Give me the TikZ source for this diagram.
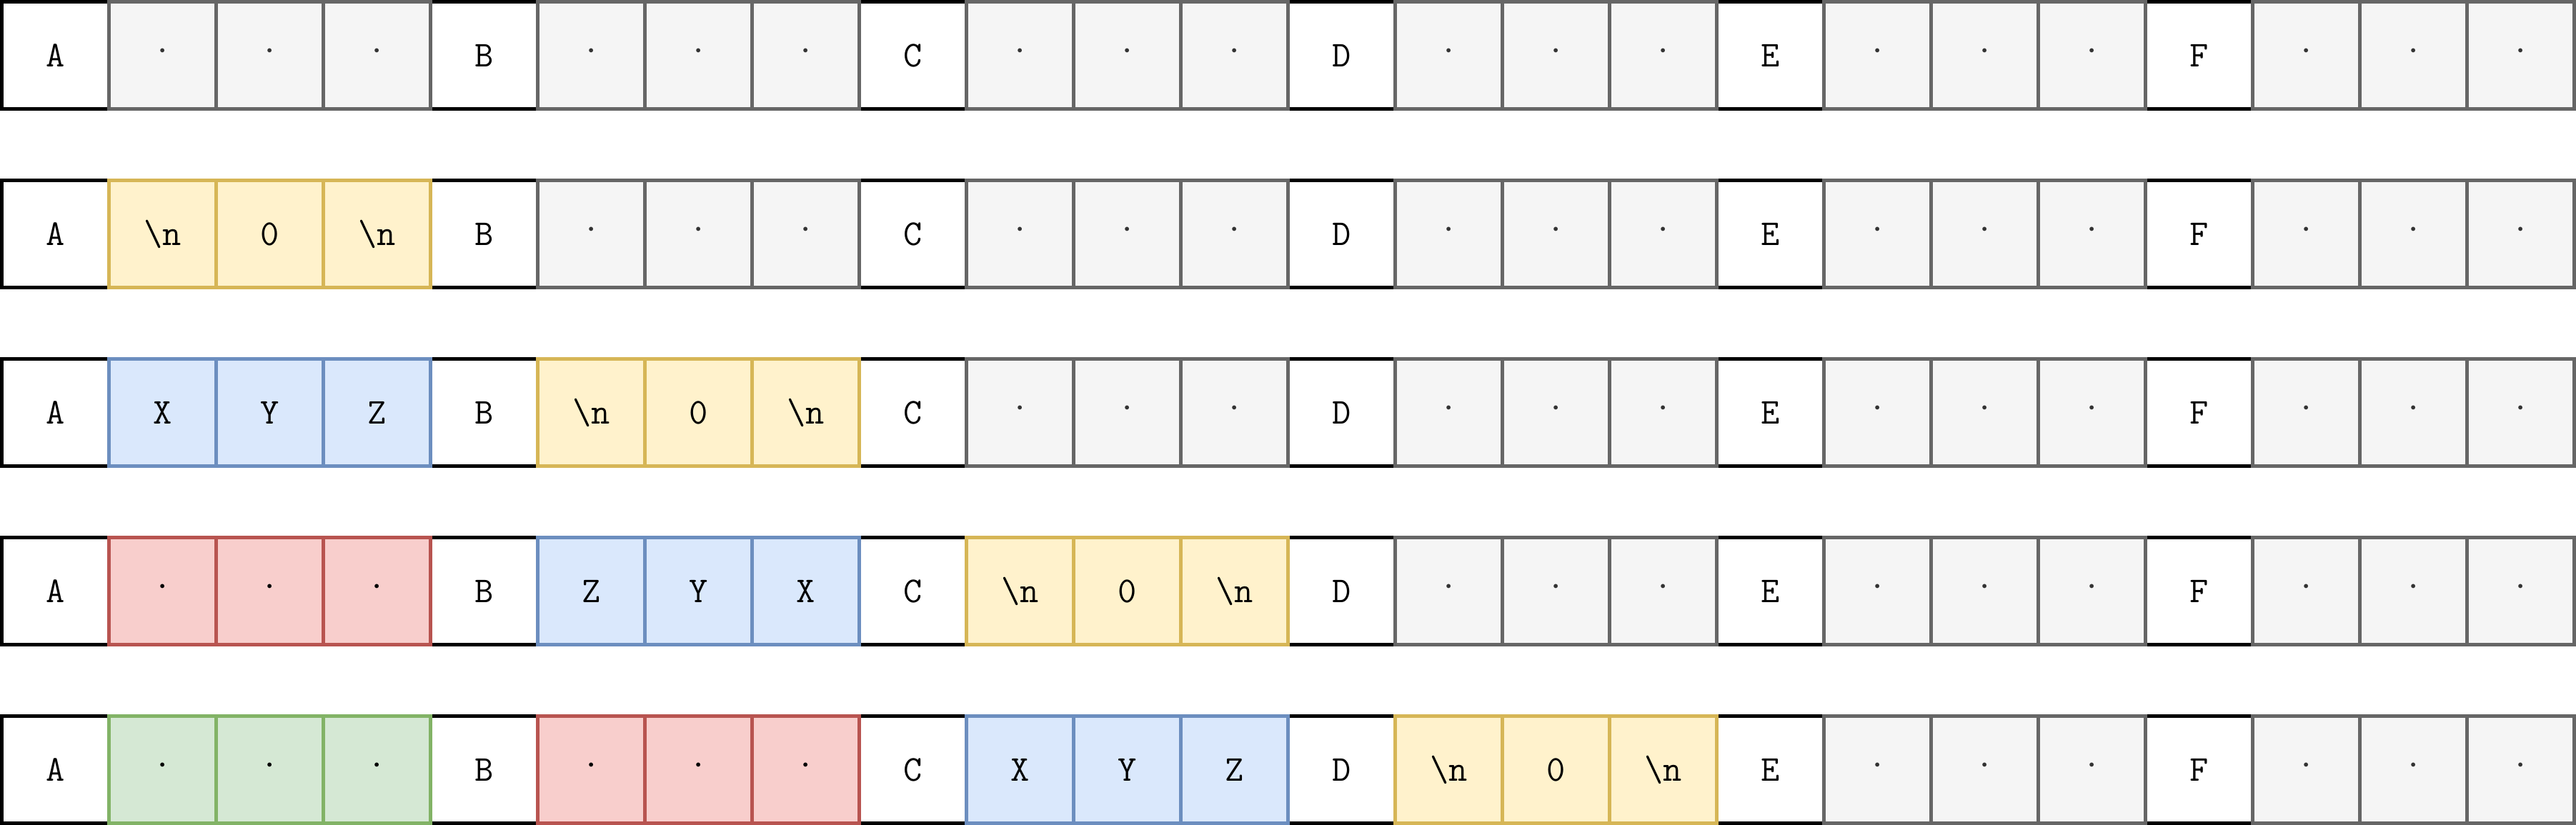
\documentclass[tikz,border=0pt]{standalone}
\definecolor{freefill}{HTML}{F5F5F5}
\definecolor{freedraw}{HTML}{666666}
\definecolor{freetext}{HTML}{333333}
\definecolor{nlfill}{HTML}{FFF2CC}
\definecolor{nldraw}{HTML}{D6B656}
\definecolor{strfill}{HTML}{DAE8FC}
\definecolor{strdraw}{HTML}{6C8EBF}
\definecolor{oldfill}{HTML}{F8CECC}
\definecolor{olddraw}{HTML}{B85450}
\definecolor{olderfill}{HTML}{D5E8D4}
\definecolor{olderdraw}{HTML}{82B366}
\usepackage{tikz}
\usetikzlibrary{positioning}

% labels of the three cells of each kind of block
\newcommand{\labfree}{{\textperiodcentered},{\textperiodcentered},{\textperiodcentered}}
\newcommand{\labold}{{\textperiodcentered},{\textperiodcentered},{\textperiodcentered}}
\newcommand{\labolder}{{\textperiodcentered},{\textperiodcentered},{\textperiodcentered}}
\newcommand{\labnl}{{\textbackslash n},0,{\textbackslash n}}
\newcommand{\labxyz}{X,Y,Z}
\newcommand{\labzyx}{Z,Y,X}

\tikzset{
  cell/.style={draw, line width=0.05cm, minimum size=1.5cm, inner sep=0pt, outer sep=0pt,
    font=\fontsize{14.5}{17}\selectfont\ttfamily},
  letter/.style={cell, draw=black, fill=white},
  free/.style={cell, draw=freedraw, fill=freefill, text=freetext},
  nl/.style={cell, draw=nldraw, fill=nlfill},
  xyz/.style={cell, draw=strdraw, fill=strfill},
  zyx/.style={cell, draw=strdraw, fill=strfill},
  old/.style={cell, draw=olddraw, fill=oldfill},
  older/.style={cell, draw=olderdraw, fill=olderfill}
}

\begin{document}
\begin{tikzpicture}
  \useasboundingbox (-0.775, 0.775) rectangle (35.275, -10.775);

  % one row per step, six blocks of three cells per row
  \foreach \r/\blocks in {0/{free,free,free,free,free,free},
                          1/{nl,free,free,free,free,free},
                          2/{xyz,nl,free,free,free,free},
                          3/{old,zyx,nl,free,free,free},
                          4/{older,old,xyz,nl,free,free}} {
    % letter cells
    \foreach \L [count=\b from 0] in {A,B,C,D,E,F}
      \node[letter] (l-\r-\b) at (\b*6, -\r*2.5) {\L};
    % block cells
    \foreach \kind [count=\b from 0] in \blocks {
      \expandafter\let\expandafter\lablist\csname lab\kind\endcsname
      \foreach \t [count=\k] in \lablist
        \node[\kind] (c-\r-\b-\k) at (\b*6+\k*1.5, -\r*2.5) {\t};
    }
  }
\end{tikzpicture}
\end{document}
